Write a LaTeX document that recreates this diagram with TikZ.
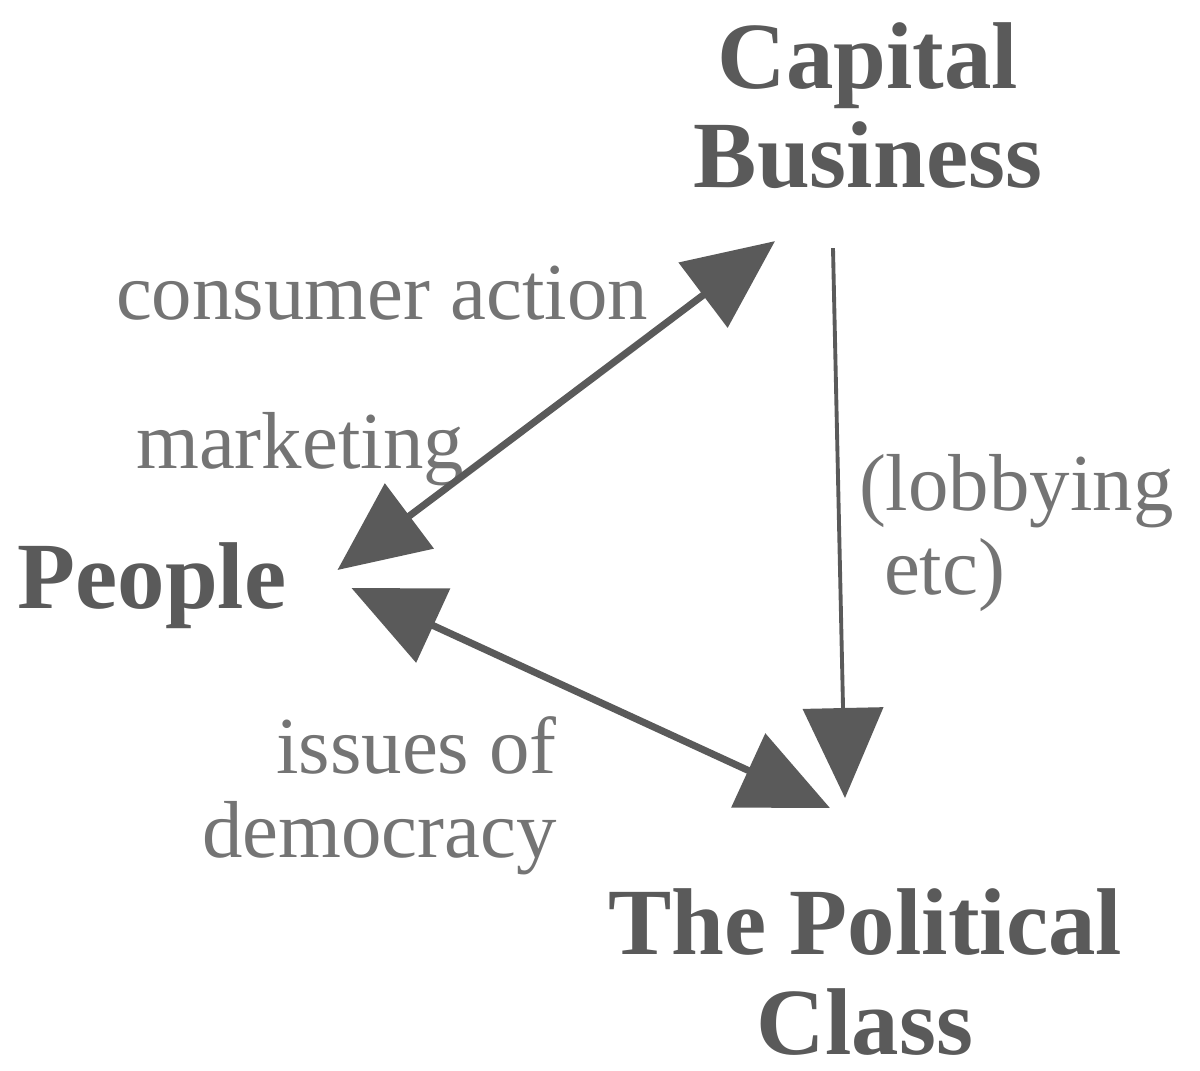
\documentclass[tikz,border=0pt]{standalone}
\usepackage{fontspec}
\setmainfont{Liberation Serif}
\usetikzlibrary{arrows.meta,positioning}
\definecolor{inkgray}{HTML}{5a5a5a}
\definecolor{labelgray}{HTML}{747474}

\begin{document}
\begin{tikzpicture}[
    > = {Triangle[length=0.9cm,width=0.8cm]}, % big filled heads
    shorten > = 0pt,
    semithick
    ]
\tikzset{
    actor/.style = {inkgray, font=\fontsize{27}{28.2}\selectfont\bfseries,
        align=center, inner sep=0pt},
    lbl/.style = {labelgray, font=\fontsize{23}{24}\selectfont, inner sep=0pt},
    dbl/.style = {<->, color=inkgray, line width=2pt},
    sgl/.style = {->, color=inkgray, line width=1.1pt}
    }
    \useasboundingbox (0,0) rectangle (12,-10.7);

    \node[actor] (cap) at (8.68,-1.06) {Capital\\Business};
    \node[actor] (ppl) at (1.52,-5.86) {People};
    \node[actor] (pol) at (8.65,-9.72) {The Political\\Class};

    \node[lbl] (cons) at (3.82,-2.93) {consumer action};
    \node[lbl] (mkt) at (3.0,-4.49) {marketing};
    \node[lbl, align=left, anchor=west] (lob) at (8.58,-5.33) {(lobbying\\\hspace{0.25cm}etc)};
    \node[lbl, align=right, anchor=east] (dem) at (5.58,-7.96) {issues of\\democracy};

     \draw[dbl] ([shift={(0.5,0.16)}]ppl.east) -- ([shift={(-0.93,-0.51)}]cap.south);
     \draw[dbl] ([shift={(0.64,-0.02)}]ppl.east) -- ([shift={(-0.35,0.8)}]pol.north);
     \draw[sgl] ([shift={(-0.35,-0.58)}]cap.south) -- ([shift={(-0.2,0.9)}]pol.north);
\end{tikzpicture}
\end{document}
